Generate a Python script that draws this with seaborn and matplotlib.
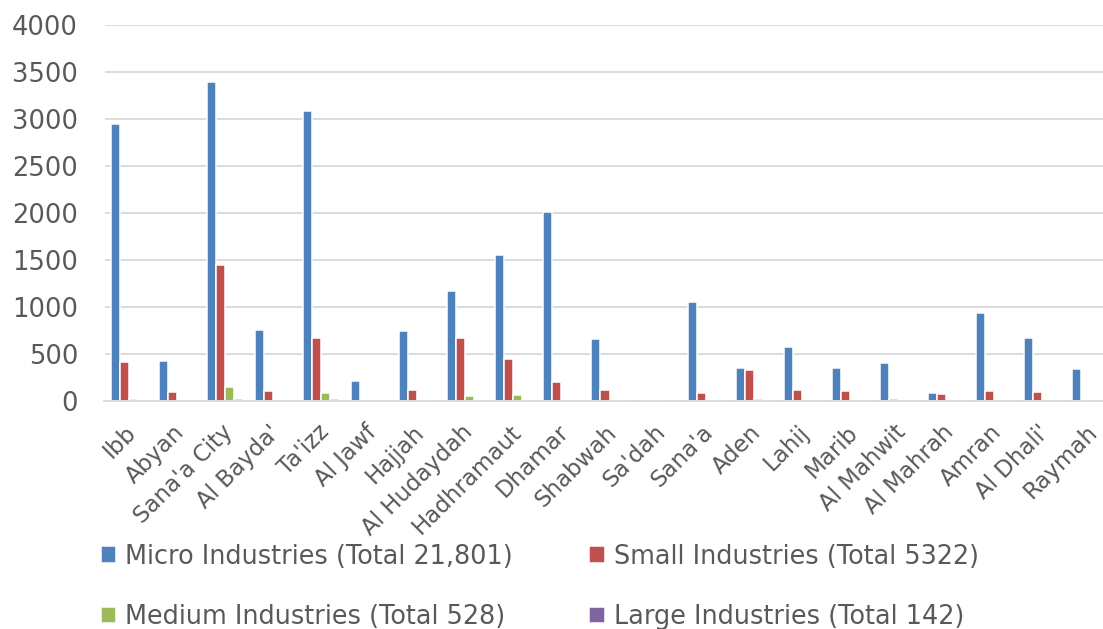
import numpy as np
import pandas as pd
import seaborn as sns
import matplotlib.pyplot as plt
from matplotlib.transforms import ScaledTranslation

regions = ["Ibb", "Abyan", "Sana'a City", "Al Bayda'", "Ta'izz", "Al Jawf", "Hajjah",
           "Al Hudaydah", "Hadhramaut", "Dhamar", "Shabwah", "Sa'dah", "Sana'a", "Aden",
           "Lahij", "Marib", "Al Mahwit", "Al Mahrah", "Amran", "Al Dhali'", "Raymah"]
micro = [2950, 430, 3390, 760, 3090, 210, 740, 1170, 1550, 2010, 655, 10, 1050, 348,
         575, 355, 404, 90, 935, 675, 340]
small = [415, 100, 1450, 110, 670, 0, 120, 670, 445, 205, 113, 12, 82, 330,
         117, 103, 25, 70, 103, 92, 0]
medium = [20, 0, 146, 5, 80, 0, 8, 50, 60, 5, 15, 0, 7, 20, 0, 0, 0, 3, 0, 0, 0]
large = [5, 0, 25, 0, 20, 0, 0, 8, 15, 0, 0, 0, 0, 10, 0, 0, 0, 0, 0, 0, 0]
series = ["Micro Industries (Total 21,801)", "Small Industries (Total 5322)",
          "Medium Industries (Total 528)", "Large Industries (Total 142)"]
colors = ["#4F81BD", "#C0504D", "#9BBB59", "#8064A2"]

sns.set_style("white")
plt.rcParams['font.family'] = 'sans-serif'
plt.rcParams['font.sans-serif'] = ['DejaVu Sans']

df = pd.DataFrame({"region": regions * 4,
                   "value": micro + small + medium + large,
                   "series": np.repeat(series, len(regions))})

fig = plt.figure(figsize=(11.03, 6.29), dpi=100)
ax = fig.add_axes([104.5/1103, 228/629, 1010/1103, 376/629])
sns.barplot(data=df, x="region", y="value", hue="series", palette=colors,
            saturation=1, width=0.75, edgecolor="white", linewidth=1.1, ax=ax)

ax.set_ylim(0, 4000)
ax.set_xlim(-0.5, len(regions) - 0.5)
ax.set_yticks(range(0, 4001, 500))
ax.yaxis.grid(True, color="#D9D9D9", linewidth=1.3)
ax.set_axisbelow(True)
for s in ["top", "right", "left"]:
    ax.spines[s].set_visible(False)
ax.spines["bottom"].set_color("#D9D9D9")
ax.spines["bottom"].set_linewidth(1.3)
ax.set_xlabel("")
ax.set_ylabel("")
ax.tick_params(axis="y", labelsize=18.5, colors="#595959", length=0, pad=19)
ax.tick_params(axis="x", labelsize=16.5, colors="#595959", length=0, pad=14)
shift = ScaledTranslation(-4/100, 0, fig.dpi_scale_trans)
for lab in ax.get_xticklabels():
    lab.set_rotation(45)
    lab.set_ha("right")
    lab.set_rotation_mode("anchor")
    lab.set_transform(lab.get_transform() + shift)

handles, labels = ax.get_legend_handles_labels()
ax.get_legend().remove()
order = [0, 2, 1, 3]
fig.legend([handles[i] for i in order], [labels[i] for i in order], ncol=2,
           loc="upper left", bbox_to_anchor=(0.082, 0.152),
           frameon=False, fontsize=18.4, labelcolor="#595959", handlelength=0.6,
           handleheight=0.6, handletextpad=0.35, columnspacing=3.0, labelspacing=1.35,
           borderaxespad=0)

fig.savefig("out.png", dpi=100)
